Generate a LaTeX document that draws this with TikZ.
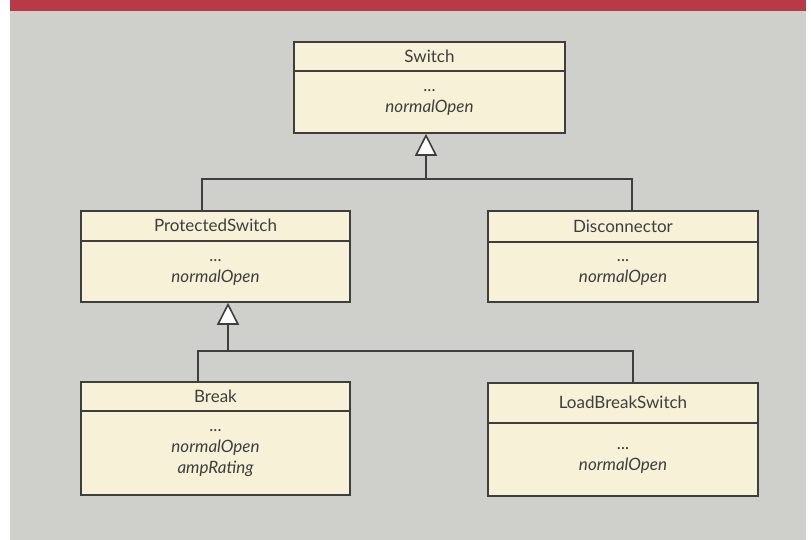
\documentclass[tikz,border=0pt]{standalone}
\usepackage{fontspec}
\setmainfont{Lato}
\usetikzlibrary{arrows.meta,calc}
\definecolor{pagegray}{RGB}{207,207,204}
\definecolor{bannerred}{RGB}{184,58,70}
\definecolor{classfill}{RGB}{247,241,215}
\definecolor{linegray}{RGB}{62,62,62}
\definecolor{textgray}{RGB}{62,62,62}
\tikzstyle{classbox}=[rectangle, fill=classfill, draw=linegray, line width=1.6pt, inner sep=0pt, anchor=center]
\tikzstyle{classtitle}=[align=center, text=textgray, inner sep=0pt, font=\fontsize{17}{20}\selectfont]
\tikzstyle{classattrs}=[align=center, text=textgray, inner sep=0pt, font=\fontsize{17}{21}\selectfont\itshape]
\tikzstyle{link}=[draw=linegray, line width=1.6pt]
\tikzstyle{inherit}=[link, -{Triangle[open, length=22pt, width=22pt, fill=white]}]
\newcommand{\classbox}[8]
{
  \node[classbox, minimum width=#4pt, minimum height=#5pt](#1) at (#2,#3){};
  \coordinate (#1-dl) at ([yshift=-#6pt]#1.north west);
  \coordinate (#1-dr) at ([yshift=-#6pt]#1.north east);
  \draw[link] (#1-dl) -- (#1-dr);
  \node[classtitle](#1-t) at ($(#1.north)!0.5!(#1-dl -| #1.north)$) {#7};
  \node[classattrs](#1-a) at ($(#1-dl -| #1.south)!0.5!(#1.south)$) {#8};
}

\begin{document}
\begin{tikzpicture}[x=1pt, y=-1pt]
	\useasboundingbox (0,0) rectangle (811,540);
	\fill[pagegray] (10,11) rectangle (806,540);
	\fill[bannerred] (10,0) rectangle (806,11);

	\classbox{switch}{429.5}{87.5}{271}{91}{30}{Switch}{{\upshape...}\\normalOpen}
	\classbox{ps}{215.5}{256.5}{269}{91}{31}{ProtectedSwitch}{{\upshape...}\\normalOpen}
	\classbox{disc}{623}{256.5}{270}{91}{32}{Disconnector}{{\upshape...}\\normalOpen}
	\classbox{brk}{215.5}{438.5}{269}{113}{30}{Break}{{\upshape...}\\normalOpen\\ampRating}
	\classbox{lbs}{623}{439.5}{270}{113}{41}{\raisebox{-5pt}{LoadBreakSwitch}}{{\upshape...}\\normalOpen}

	\coordinate (busA) at (426,179);
	\coordinate (busB) at (228,351);

	\draw[link] ([xshift=-13.5pt]ps.north) |- (busA) -| ([xshift=9pt]disc.north);
	\draw[inherit] (busA) -- (busA |- switch.south);

	\draw[link] ([xshift=-17.5pt]brk.north) |- (busB) -| ([xshift=10pt]lbs.north);
	\draw[inherit] (busB) -- (busB |- ps.south);

\end{tikzpicture}
\end{document}
